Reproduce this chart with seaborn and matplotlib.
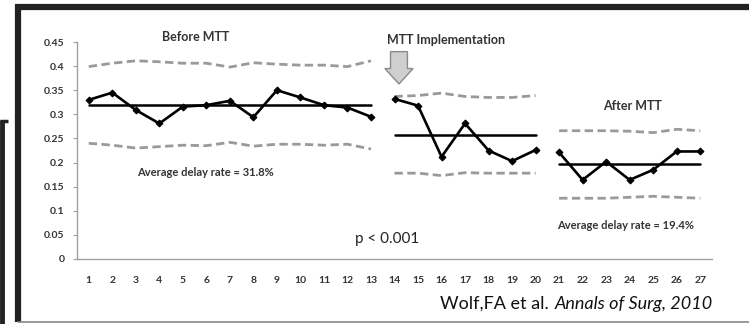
import numpy as np
import pandas as pd
import matplotlib
matplotlib.use("Agg")
import matplotlib.pyplot as plt
import matplotlib.patches as mpatches
import seaborn as sns

# ---------------- data ----------------
months = list(range(1, 28))
phase_labels = ["Before"] * 13 + ["Implementation"] * 7 + ["After"] * 7
delay_rate = [0.330, 0.345, 0.309, 0.281, 0.316, 0.319, 0.328, 0.294, 0.350, 0.335, 0.319, 0.314, 0.295,
              0.332, 0.318, 0.212, 0.281, 0.225, 0.203, 0.226,
              0.221, 0.164, 0.202, 0.164, 0.185, 0.223, 0.223]
upper_limit = [0.399, 0.406, 0.411, 0.409, 0.406, 0.406, 0.398, 0.407, 0.404, 0.402, 0.402, 0.399, 0.411,
               0.337, 0.339, 0.344, 0.337, 0.335, 0.335, 0.339,
               0.266, 0.266, 0.266, 0.265, 0.262, 0.269, 0.266]
lower_limit = [0.240, 0.236, 0.230, 0.233, 0.236, 0.235, 0.242, 0.234, 0.238, 0.238, 0.236, 0.238, 0.228,
               0.178, 0.178, 0.173, 0.179, 0.178, 0.178, 0.178,
               0.126, 0.126, 0.126, 0.128, 0.130, 0.128, 0.126]
phase_mean = {"Before": 0.319, "Implementation": 0.257, "After": 0.197}
y_ticks = [0, 0.05, 0.1, 0.15, 0.2, 0.25, 0.3, 0.35, 0.4, 0.45]
y_tick_labels = ["0", "0.05", "0.1", "0.15", "0.2", "0.25", "0.3", "0.35", "0.4", "0.45"]

df = pd.DataFrame({"month": months, "phase": phase_labels, "rate": delay_rate,
                   "ucl": upper_limit, "lcl": lower_limit})
df["mean"] = df["phase"].map(phase_mean)

# ---------------- figure ----------------
sns.set_theme(style="white")
plt.rcParams["font.family"] = ["Lato", "DejaVu Sans"]

W, H = 749, 324
fig = plt.figure(figsize=(W / 100, H / 100), dpi=100)
ax = fig.add_axes([77 / W, (H - 259) / H, (712 - 77) / W, (259 - 42) / H])

for ph in ["Before", "Implementation", "After"]:
    sub = df[df["phase"] == ph]
    sns.lineplot(data=sub, x="month", y="ucl", ax=ax, color="#9a9a9a", lw=2.0,
                 linestyle=(0, (3, 1.6)), zorder=2)
    sns.lineplot(data=sub, x="month", y="lcl", ax=ax, color="#9a9a9a", lw=2.0,
                 linestyle=(0, (3, 1.6)), zorder=2)
    sns.lineplot(data=sub, x="month", y="mean", ax=ax, color="black", lw=1.8, zorder=3)
    sns.lineplot(data=sub, x="month", y="rate", ax=ax, color="black", lw=1.9,
                 marker="D", markersize=3.5, markeredgecolor="black", zorder=4)

ax.set_xlim(0.5, 27.5)
ax.set_ylim(0, 0.45)
ax.set_xlabel("")
ax.set_ylabel("")

ax.set_xticks(months)
ax.set_xticklabels([str(m) for m in months], fontsize=7.5, fontweight="bold", color="#333333")
ax.set_xticks(np.arange(0.5, 28, 1), minor=True)
ax.tick_params(axis="x", which="major", length=0, pad=12)
ax.tick_params(axis="x", which="minor", length=3, width=0.8, color="#a0a0a0", direction="inout")
ax.set_yticks(y_ticks)
ax.set_yticklabels(y_tick_labels, fontsize=7.5, fontweight="bold", color="#333333")
ax.tick_params(axis="y", which="major", length=3, width=0.8, color="#a0a0a0", direction="out", pad=6)
ax.tick_params(left=True, bottom=False)

for s in ["top", "right"]:
    ax.spines[s].set_visible(False)
for s in ["left", "bottom"]:
    ax.spines[s].set_color("#a0a0a0")
    ax.spines[s].set_linewidth(1.0)

# annotations
ax.text(5.56, 0.460, "Before MTT", ha="center", va="center", fontsize=9, fontweight="bold",
        color="#333333", clip_on=False)
ax.text(16.19, 0.454, "MTT Implementation", ha="center", va="center", fontsize=9, fontweight="bold",
        color="#333333", clip_on=False)
ax.text(24.1, 0.317, "After MTT", ha="center", va="center", fontsize=9, fontweight="bold",
        color="#333333")
ax.text(5.94, 0.180, "Average delay rate = 31.8%", ha="center", va="center", fontsize=8,
        color="#333333", fontweight="bold")
ax.text(23.84, 0.0705, "Average delay rate = 19.4%", ha="center", va="center", fontsize=8,
        color="#333333", fontweight="bold")
ax.text(13.68, 0.041, "p < 0.001", ha="center", va="center", fontsize=11, color="#222222")

arrow = mpatches.FancyArrow(14.19, 0.430, 0, -0.067, width=0.72, head_width=1.2,
                            head_length=0.032, length_includes_head=True,
                            facecolor="#cfcfcf", edgecolor="#8a8a8a", lw=1.0, zorder=5,
                            clip_on=False)
ax.add_patch(arrow)

# citation
cy = (H - 304) / H
t_it = fig.text(713 / W, cy, "Annals of Surg, 2010", ha="right", va="center", fontsize=13,
                color="#111111", style="italic")
renderer = fig.canvas.get_renderer()
bb = t_it.get_window_extent(renderer=renderer)
fig.text((bb.x0 - 1) / W, cy, "Wolf,FA et al. ", ha="right", va="center", fontsize=13,
         color="#111111")

# surrounding frames
fig.add_artist(plt.Line2D([15 / W, 1.0], [(H - 7) / H, (H - 7) / H], color="#222222", lw=4.5,
                          solid_capstyle="butt"))
fig.add_artist(plt.Line2D([18 / W, 18 / W], [(H - 5) / H, (H - 322) / H], color="#222222", lw=4.5,
                          solid_capstyle="butt"))
fig.add_artist(plt.Line2D([18 / W, 1.0], [(H - 321.5) / H, (H - 321.5) / H], color="#888888", lw=1.2))
fig.add_artist(plt.Line2D([2 / W, 2 / W], [(H - 120) / H, 0], color="#222222", lw=3.5,
                          solid_capstyle="butt"))
fig.add_artist(plt.Line2D([0, 8 / W], [(H - 121) / H, (H - 121) / H], color="#222222", lw=2.5,
                          solid_capstyle="butt"))

fig.savefig("out.png", dpi=100)
